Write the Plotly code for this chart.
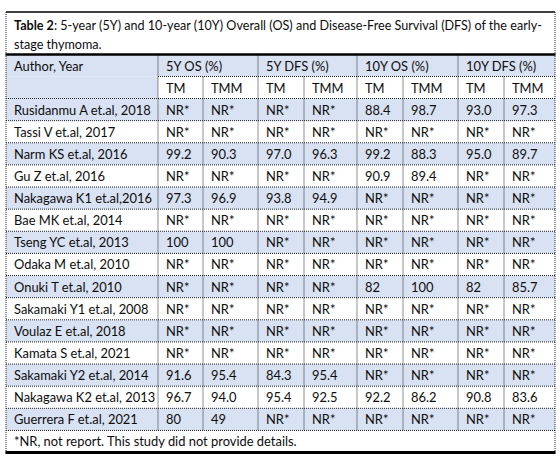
import plotly.graph_objects as go

# ---------------- data ----------------
title_bold = "Table 2"
title_line1 = ": 5-year (5Y) and 10-year (10Y) Overall (OS) and Disease-Free Survival (DFS) of the early-"
title_line2 = "stage thymoma."
footnote = "*NR, not report. This study did not provide details."

group_headers = ["5Y OS (%)", "5Y DFS (%)", "10Y OS (%)", "10Y DFS (%)"]
sub_headers = ["TM", "TMM"]
author_header = "Author, Year"

authors = [
    "Rusidanmu A et.al, 2018", "Tassi V et.al, 2017", "Narm KS et.al, 2016",
    "Gu Z et.al, 2016", "Nakagawa K1 et.al,2016", "Bae MK et.al, 2014",
    "Tseng YC et.al, 2013", "Odaka M et.al, 2010", "Onuki T et.al, 2010",
    "Sakamaki Y1 et.al, 2008", "Voulaz E et.al, 2018", "Kamata S et.al, 2021",
    "Sakamaki Y2 et.al, 2014", "Nakagawa K2 et.al, 2013", "Guerrera F et.al, 2021",
]
os5_tm = ["NR*", "NR*", "99.2", "NR*", "97.3", "NR*", "100", "NR*", "NR*", "NR*", "NR*", "NR*", "91.6", "96.7", "80"]
os5_tmm = ["NR*", "NR*", "90.3", "NR*", "96.9", "NR*", "100", "NR*", "NR*", "NR*", "NR*", "NR*", "95.4", "94.0", "49"]
dfs5_tm = ["NR*", "NR*", "97.0", "NR*", "93.8", "NR*", "NR*", "NR*", "NR*", "NR*", "NR*", "NR*", "84.3", "95.4", "NR*"]
dfs5_tmm = ["NR*", "NR*", "96.3", "NR*", "94.9", "NR*", "NR*", "NR*", "NR*", "NR*", "NR*", "NR*", "95.4", "92.5", "NR*"]
os10_tm = ["88.4", "NR*", "99.2", "90.9", "NR*", "NR*", "NR*", "NR*", "82", "NR*", "NR*", "NR*", "NR*", "92.2", "NR*"]
os10_tmm = ["98.7", "NR*", "88.3", "89.4", "NR*", "NR*", "NR*", "NR*", "100", "NR*", "NR*", "NR*", "NR*", "86.2", "NR*"]
dfs10_tm = ["93.0", "NR*", "95.0", "NR*", "NR*", "NR*", "NR*", "NR*", "82", "NR*", "NR*", "NR*", "NR*", "90.8", "NR*"]
dfs10_tmm = ["97.3", "NR*", "89.7", "NR*", "NR*", "NR*", "NR*", "NR*", "85.7", "NR*", "NR*", "NR*", "NR*", "83.6", "NR*"]

value_columns = [os5_tm, os5_tmm, dfs5_tm, dfs5_tmm, os10_tm, os10_tmm, dfs10_tm, dfs10_tmm]

# ---------------- layout geometry ----------------
W, H = 560, 459
col_edges = [6, 158, 203, 258, 304, 357, 403, 458, 504, 555]
y_top = 12
y_title = 54.5
y_h1 = 76.5
y_h2 = 98.5
row_h = 22.13
n_rows = len(authors)
row_edges = [y_h2 + i * row_h for i in range(n_rows + 1)]
y_foot = row_edges[-1] + 22

BLUE = "#D9E2F3"
TXT = "#0d0d0d"
GRID = "#222222"
DOT = "1px,1px"
FONT = "Lato"
FS = 12.9
FS_TITLE = 12.6
PAD = 6

shapes = []
annotations = []


def rect(x0, y0, x1, y1, color):
    shapes.append(dict(type="rect", x0=x0, y0=y0, x1=x1, y1=y1, xref="x", yref="y",
                       fillcolor=color, line=dict(width=0), layer="below"))


def hline(x0, x1, y, width=1, dash=DOT, color=GRID):
    shapes.append(dict(type="line", x0=x0, x1=x1, y0=y, y1=y, xref="x", yref="y",
                       line=dict(color=color, width=width, dash=dash)))


def vline(x, y0, y1, width=1, dash=DOT, color=GRID):
    shapes.append(dict(type="line", x0=x, x1=x, y0=y0, y1=y1, xref="x", yref="y",
                       line=dict(color=color, width=width, dash=dash)))


def text(x, y, s, size=FS):
    annotations.append(dict(x=x, y=y, xref="x", yref="y", text=s, showarrow=False,
                            xanchor="left", yanchor="middle",
                            font=dict(family=FONT, size=size, color=TXT)))


# fills
rect(col_edges[0], y_title, col_edges[-1], y_h1, BLUE)          # header row 1
rect(col_edges[0], y_h1, col_edges[1], y_h2, BLUE)              # merged author cell
for i in range(n_rows):
    if i % 2 == 0:
        rect(col_edges[0], row_edges[i], col_edges[-1], row_edges[i + 1], BLUE)

# horizontal lines
hline(col_edges[0], col_edges[-1], y_top, width=1.5, dash="solid", color="#000000")
hline(col_edges[1], col_edges[-1], y_h1)
for y in row_edges[:-1]:
    hline(col_edges[0], col_edges[-1], y)
hline(col_edges[0], col_edges[-1], row_edges[-1])

# vertical lines
vline(col_edges[0], y_top, y_foot)
vline(col_edges[-1], y_top, y_foot)
for k in (1, 3, 5, 7):
    vline(col_edges[k], y_title, row_edges[-1])
for k in (2, 4, 6, 8):
    vline(col_edges[k], y_h1, row_edges[-1])

# thick rules
hline(col_edges[0] - 0.5, col_edges[-1] + 0.5, y_title, width=2.6, dash="solid", color="#000000")
hline(col_edges[0] - 0.5, col_edges[-1] + 0.5, y_foot, width=3, dash="solid", color="#000000")

# title text
text(col_edges[0] + PAD, 25, "<b>" + title_bold + "</b>" + title_line1, FS_TITLE)
text(col_edges[0] + PAD, 44, title_line2, FS_TITLE)

# header text
text(col_edges[0] + PAD, (y_title + y_h1) / 2, author_header)
for g, label in enumerate(group_headers):
    text(col_edges[1 + 2 * g] + PAD, (y_title + y_h1) / 2, label)
for c in range(8):
    text(col_edges[1 + c] + PAD, (y_h1 + y_h2) / 2, sub_headers[c % 2])

# body text
for i in range(n_rows):
    yc = (row_edges[i] + row_edges[i + 1]) / 2
    text(col_edges[0] + PAD, yc, authors[i])
    for c, col in enumerate(value_columns):
        text(col_edges[1 + c] + PAD, yc, col[i])

text(col_edges[0] + PAD, (row_edges[-1] + y_foot) / 2, footnote)

fig = go.Figure()
fig.update_layout(
    width=W, height=H,
    margin=dict(l=0, r=0, t=0, b=0),
    paper_bgcolor="white", plot_bgcolor="white",
    xaxis=dict(range=[0, W], visible=False, fixedrange=True),
    yaxis=dict(range=[H, 0], visible=False, fixedrange=True),
    shapes=shapes, annotations=annotations, showlegend=False,
)
fig.write_html("out.html", config={"displayModeBar": False},
               post_script="document.body.style.margin='0';document.body.style.overflow='hidden';")
